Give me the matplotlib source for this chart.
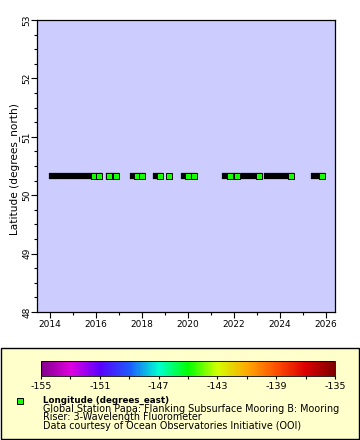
import matplotlib
matplotlib.use('Agg')
import matplotlib.pyplot as plt
import matplotlib.dates as mdates
from matplotlib.colors import LinearSegmentedColormap, Normalize
from matplotlib.cm import ScalarMappable
from matplotlib.patches import Rectangle
from matplotlib.lines import Line2D
import pandas as pd

plt.rcParams['axes.unicode_minus'] = False

# deployment runs (first / last sample) and the samples left visible as green squares
run_start = ['2014-02-01', '2016-07-31', '2017-08-11', '2018-08-14', '2019-03-04',
             '2019-10-30', '2021-08-11', '2022-06-07', '2023-06-03', '2025-06-24']
run_end = ['2016-02-12', '2016-11-13', '2018-01-04', '2018-10-12', '2019-03-04',
           '2020-04-08', '2022-02-10', '2023-01-26', '2024-06-24', '2025-10-23']
green_dates = ['2015-12-05', '2016-02-12', '2016-07-31', '2016-11-13', '2017-10-12',
               '2018-01-04', '2018-10-12', '2019-03-04', '2020-01-04', '2020-04-08',
               '2021-10-30', '2022-02-10', '2023-01-26', '2024-06-24', '2025-10-23']
station_lat = 50.33
station_lon = -144.8

lon_range = [-155, -135]
cbar_ticks = [-155, -153, -151, -149, -147, -145, -143, -141, -139, -137, -135]
cbar_labels = ['-155', '', '-151', '', '-147', '', '-143', '', '-139', '', '-135']
y_ticks = [48, 49, 50, 51, 52, 53]

legend_lines = ['Global Station Papa: Flanking Subsurface Mooring B: Mooring',
                'Riser: 3-Wavelength Fluorometer',
                'Data courtesy of Ocean Observatories Initiative (OOI)']

rainbow = LinearSegmentedColormap.from_list('rainbow2', [
    (0.0, '#80008c'), (0.1, '#e000e0'), (0.2, '#5a00ff'), (0.3, '#1e5aff'),
    (0.4, '#00ffd2'), (0.5, '#00ff00'), (0.6, '#d2ff00'), (0.7, '#ffaa00'),
    (0.8, '#ff5000'), (0.9, '#dc0000'), (1.0, '#800000')])
norm = Normalize(*lon_range)
fill = rainbow(norm(station_lon))

W, H = 360, 440
fig = plt.figure(figsize=(W / 100, H / 100), dpi=100)
ax = fig.add_axes([37 / W, 1 - 312 / H, 298 / W, 292 / H])
ax.set_facecolor('#ccccff')

xs = mdates.date2num(pd.to_datetime(run_start))
xe = mdates.date2num(pd.to_datetime(run_end))
lc = ax.hlines([station_lat] * len(xs), xs, xe, colors='black', lw=4.5)
lc.set_capstyle('projecting')
xg = mdates.date2num(pd.to_datetime(green_dates))
ax.plot(xg, [station_lat] * len(xg), ls='none', marker='s', ms=3.8,
        mfc=fill, mec='black', mew=0.7)

ax.set_xlim(mdates.date2num(pd.Timestamp('2013-06-08')),
            mdates.date2num(pd.Timestamp('2026-05-22')))
ax.set_ylim(48, 53)
ax.xaxis.set_major_locator(mdates.YearLocator(2))
ax.xaxis.set_minor_locator(mdates.YearLocator(1))
ax.xaxis.set_major_formatter(mdates.DateFormatter('%Y'))
ax.set_yticks(y_ticks)
ax.set_yticks([v + q for v in y_ticks[:-1] for q in (0.25, 0.5, 0.75)], minor=True)
for lab in ax.get_yticklabels():
    lab.set_rotation(90)
    lab.set_va('center')
ax.tick_params(which='major', length=4, width=0.8, labelsize=6.5, pad=2)
ax.tick_params(which='minor', length=2.5, width=0.8)
ax.tick_params(axis='y', pad=0)
for s in ax.spines.values():
    s.set_linewidth(0.9)
ax.set_ylabel('Latitude (degrees_north)', fontsize=7.6)
ax.yaxis.set_label_coords(-0.058, 0.49)

# legend box
fig.add_artist(Rectangle((0.5 / W, 1 - 439 / H), 358.5 / W, 91 / H, transform=fig.transFigure,
                         fc='#ffffcc', ec='black', lw=1, zorder=-1))
cax = fig.add_axes([41 / W, 1 - 376 / H, 294 / W, 15.5 / H])
cb = fig.colorbar(ScalarMappable(norm=norm, cmap=rainbow), cax=cax, orientation='horizontal')
cb.set_ticks(cbar_ticks)
cb.set_ticklabels(cbar_labels)
cb.outline.set_linewidth(0.6)
cax.tick_params(length=2.5, width=0.8, labelsize=6.8, pad=2)

fig.add_artist(Line2D([20 / W], [1 - 400.5 / H], transform=fig.transFigure, ls='none',
                      marker='s', ms=3.8, mfc=fill, mec='black', mew=0.7))
fig.text(42.7 / W, 1 - 402.7 / H, 'Longitude (degrees_east)', fontsize=6.3,
         fontweight='bold', va='baseline')
for i, line in enumerate(legend_lines):
    fig.text(42.7 / W, 1 - (411.7 + 8.7 * i) / H, line, fontsize=6.95, va='baseline')

fig.savefig('out.png', dpi=100)
